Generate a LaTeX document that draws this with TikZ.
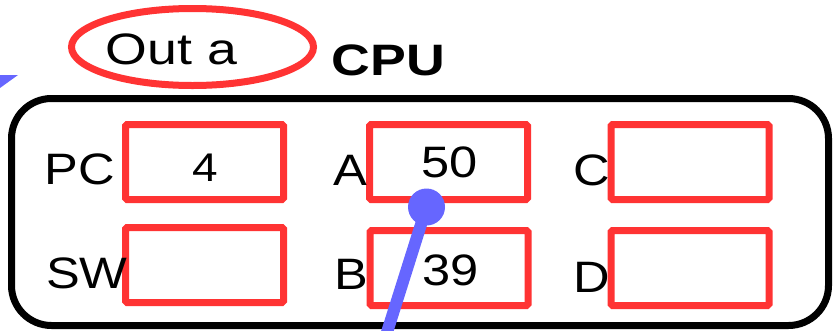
\documentclass[tikz,border=0pt]{standalone}
\usepackage{fontspec}
\setmainfont{Liberation Sans}[FakeStretch=1.15]
\newfontfamily\widefont{Liberation Sans}[FakeStretch=1.22]
\usetikzlibrary{shapes.geometric}
\definecolor{regred}{HTML}{FF3333}
\definecolor{ptrblue}{HTML}{6666FF}
\begin{document}
\begin{tikzpicture}[x=1pt,y=-1pt,
  reg/.style={draw=regred,line width=7pt,rounded corners=1.5pt,minimum width=158pt,minimum height=75pt,inner sep=0pt},
  frame/.style={draw=black,line width=7pt,rounded corners=40pt,minimum width=817pt,minimum height=227pt,inner sep=0pt},
  lbl/.style={inner sep=0pt,anchor=base west,font=\fontsize{44}{44}\selectfont},
  val/.style={inner sep=0pt,anchor=base,font=\fontsize{44}{44}\selectfont},
  ptrdot/.style={circle,fill=ptrblue,minimum size=37pt,inner sep=0pt},
  ptrline/.style={draw=ptrblue,line width=12pt}]
\useasboundingbox (0,0) rectangle (838,330);
\clip (0,0) rectangle (838,330);
% pointer arrow head from off-canvas
\fill[ptrblue] (-5,75) -- (18,75) -- (-5,91.6) -- cycle;
% Out a
\node[ellipse,draw=regred,line width=7pt,minimum width=242pt,minimum height=77pt,inner sep=0pt] (oute) at (192.5,47) {};
\node[inner sep=0pt,anchor=base,font=\widefont\fontsize{44}{44}\selectfont] (outa) at (171.5,64.5) {Out a};
\node[inner sep=0pt,anchor=base,font=\widefont\bfseries\fontsize{44}{44}\selectfont] (cputxt) at (388.5,75) {CPU};
% CPU frame
\node[frame] (cpu) at (420,212) {};
% registers
\node[reg] (pcbox) at (204.5,162) {};
\node[reg] (swbox) at (204.5,265) {};
\node[reg] (abox) at (448.5,162) {};
\node[reg] (bbox) at (449,268) {};
\node[reg] (cbox) at (690,162) {};
\node[reg] (dbox) at (690,268) {};
% labels
\node[lbl] (pc) at (44.5,184) {PC};
\node[lbl] (sw) at (46,288) {SW};
\node[lbl] (a) at (333,185) {A};
\node[lbl] (b) at (334.5,289) {B};
\node[lbl] (c) at (573,185) {C};
\node[lbl] (d) at (573.5,292) {D};
% values
\node[val,font=\fontsize{40}{40}\selectfont] (pcval) at (205.5,181) {4};
\node[val] (aval) at (450,177) {50};
\node[val] (bval) at (451,285) {39};
% pointer
\coordinate (ptrend) at (383,345);
\node[ptrdot] (ptr) at (426.5,207) {};
\draw[ptrline] (ptr.center) -- (ptrend);
\end{tikzpicture}
\end{document}
